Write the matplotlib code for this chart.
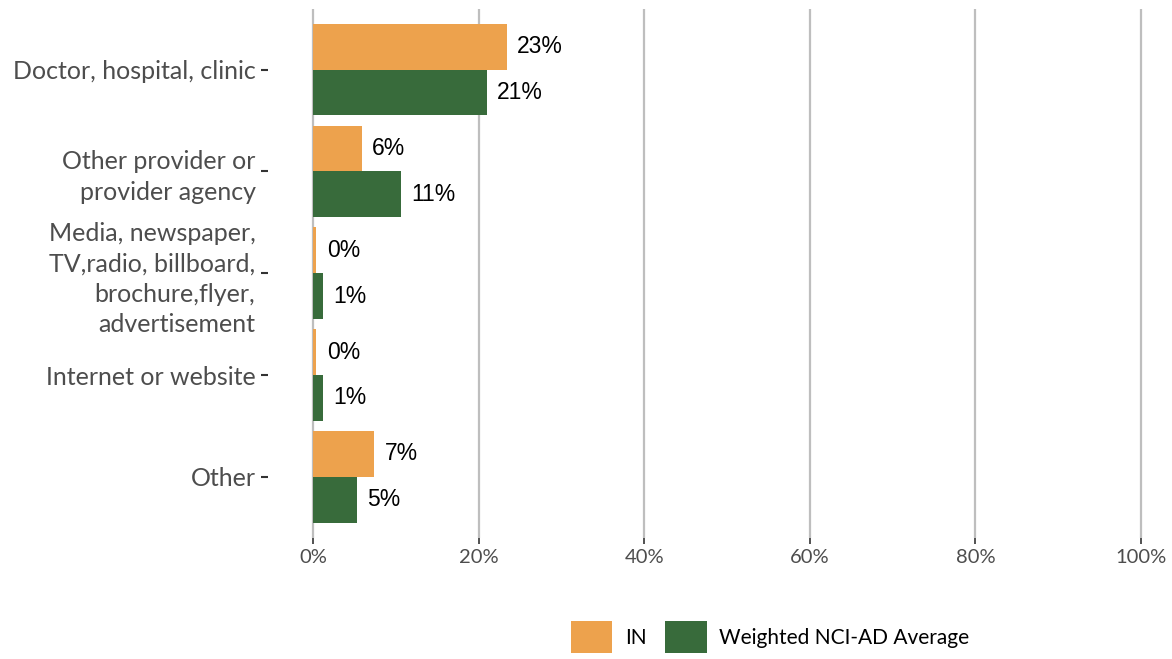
import numpy as np
import matplotlib.pyplot as plt
from matplotlib.patches import Patch

plt.rcParams['font.family'] = ['Lato', 'DejaVu Sans']

categories = ['Doctor, hospital, clinic',
              'Other provider or\nprovider agency',
              'Media, newspaper,\nTV,radio, billboard,\nbrochure,flyer,\nadvertisement',
              'Internet or website',
              'Other']
in_vals = [23.4, 5.9, 0.4, 0.4, 7.4]
nci_vals = [21.0, 10.6, 1.2, 1.2, 5.3]
series_names = ['IN', 'Weighted NCI-AD Average']
colors = ['#EDA24D', '#386B3B']

fig = plt.figure(figsize=(11.72, 6.59), dpi=100)
ax = fig.add_axes([268 / 1172, 1 - 538 / 659, (1172 - 268) / 1172, (538 - 8.5) / 659])

px_per_pct = (1141 - 313) / 100.0
ax.set_xlim(-(313 - 268) / px_per_pct, 100 + (1172 - 1141) / px_per_pct)
ax.set_ylim(4.6, -0.6)

y = np.arange(len(categories))
h = 0.45
ax.barh(y - h / 2, in_vals, height=h, color=colors[0], zorder=3)
ax.barh(y + h / 2, nci_vals, height=h, color=colors[1], zorder=3)

# value labels
for i in range(len(categories)):
    ax.annotate('%d%%' % round(in_vals[i]), (in_vals[i], y[i] - h / 2),
                xytext=(7.5, 0), textcoords='offset points', va='center', ha='left',
                fontsize=16.5, family='Liberation Sans', color='black')
    ax.annotate('%d%%' % round(nci_vals[i]), (nci_vals[i], y[i] + h / 2),
                xytext=(7.5, 0), textcoords='offset points', va='center', ha='left',
                fontsize=16.5, family='Liberation Sans', color='black')

# grid
for gx in range(0, 101, 20):
    ax.axvline(gx, color='#BEBEBE', lw=1.6, zorder=1)

ax.set_xticks(range(0, 101, 20))
ax.set_xticklabels(['%d%%' % v for v in range(0, 101, 20)])
ax.set_yticks(y)
ax.set_yticklabels(categories, linespacing=1.4)
ax.tick_params(axis='x', length=4, width=1.2, color='#333333', labelcolor='#4D4D4D',
               labelsize=14.5, pad=4)
ax.tick_params(axis='y', length=5, width=1.5, color='#333333', labelcolor='#4D4D4D',
               labelsize=18, pad=4)
for s in ax.spines.values():
    s.set_visible(False)

handles = [Patch(facecolor=colors[0]), Patch(facecolor=colors[1])]
fig.legend(handles, series_names, loc='center', bbox_to_anchor=(770 / 1172, 1 - 637 / 659),
           ncol=2, frameon=False, fontsize=15, handlelength=2.0, handleheight=2.0,
           handletextpad=0.6, columnspacing=0.9)

plt.savefig('out.png', dpi=100)
